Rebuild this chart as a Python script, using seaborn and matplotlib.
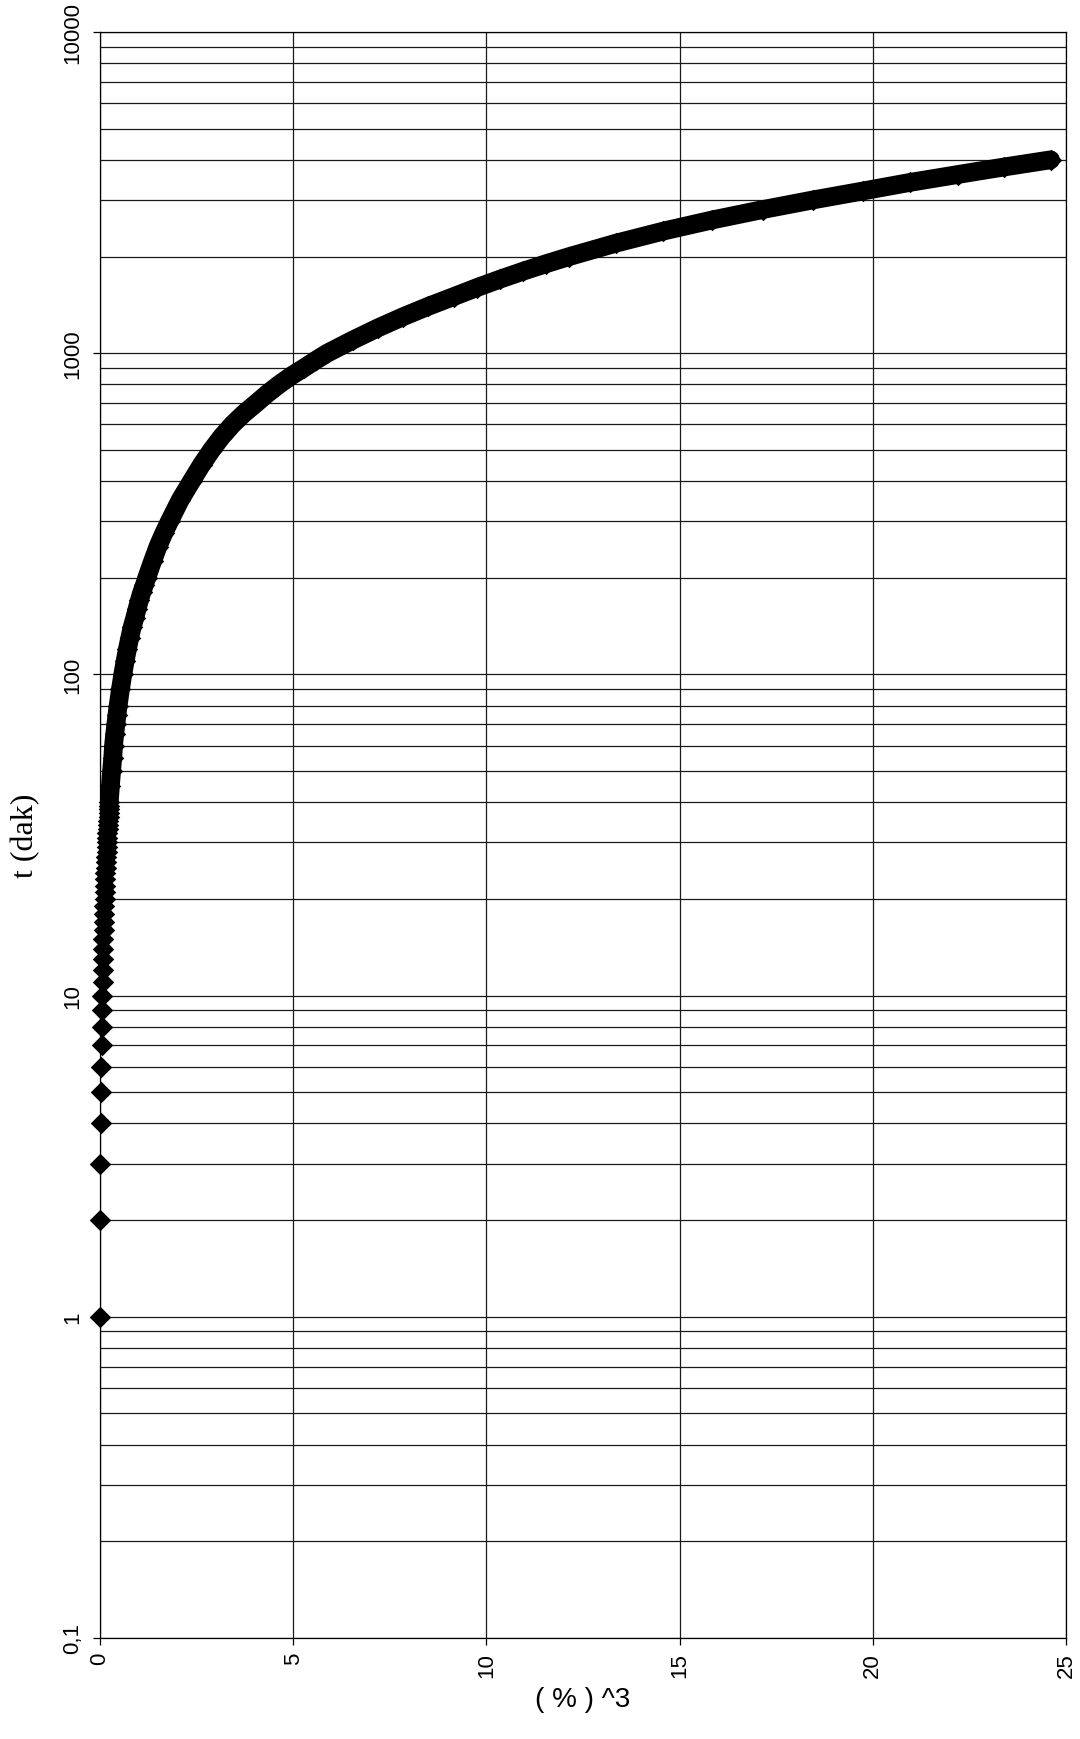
import numpy as np
import pandas as pd
import matplotlib
matplotlib.use("Agg")
import matplotlib.pyplot as plt
import seaborn as sns
from matplotlib.ticker import FixedLocator, NullFormatter, NullLocator

# ---- data ----
t_min = [1, 2, 3, 4, 5, 6, 7, 8, 9, 10,
         11, 12, 13, 14, 15, 16, 17, 18, 19, 20,
         21, 22, 23, 24, 25, 26, 27, 28, 29, 30,
         31, 32, 33, 34, 35, 36, 37, 38, 39, 40,
         45, 50, 55, 60, 65, 70, 75, 80, 90, 100,
         110, 120, 130, 140, 150, 160, 170, 180, 190, 200,
         225, 250, 275, 300, 350, 400, 450, 500, 550, 600,
         650, 700, 750, 800, 850, 900, 950, 1000, 1100, 1200,
         1300, 1400, 1500, 1600, 1700, 1800, 1900, 2000, 2200, 2400,
         2600, 2800, 3000, 3200, 3400, 3600, 3800, 4000]
pct_cubed = [0.00, 0.00, 0.01, 0.02, 0.03, 0.03, 0.04, 0.05, 0.05, 0.06,
             0.07, 0.07, 0.08, 0.08, 0.09, 0.10, 0.10, 0.11, 0.11, 0.12,
             0.13, 0.13, 0.14, 0.14, 0.15, 0.16, 0.16, 0.17, 0.17, 0.18,
             0.19, 0.19, 0.20, 0.20, 0.21, 0.22, 0.22, 0.23, 0.23, 0.24,
             0.27, 0.30, 0.33, 0.35, 0.38, 0.41, 0.44, 0.47, 0.53, 0.59,
             0.65, 0.71, 0.77, 0.83, 0.90, 0.96, 1.02, 1.08, 1.15, 1.21,
             1.36, 1.50, 1.65, 1.80, 2.08, 2.37, 2.63, 2.89, 3.15, 3.43,
             3.73, 4.05, 4.34, 4.64, 4.95, 5.28, 5.58, 5.88, 6.55, 7.20,
             7.85, 8.50, 9.15, 9.75, 10.35, 10.95, 11.55, 12.15, 13.35, 14.58,
             15.85, 17.15, 18.45, 19.75, 20.95, 22.20, 23.40, 24.60]

x_ticks = [0, 5, 10, 15, 20, 25]
x_tick_labels = ["0", "5", "10", "15", "20", "25"]
y_ticks = [0.1, 1, 10, 100, 1000, 10000]
y_tick_labels = ["0,1", "1", "10", "100", "1000", "10000"]
x_label = "( % ) ^3"
y_label = "t (dak)"

df = pd.DataFrame({"x": pct_cubed, "t": t_min})

sns.set_theme(style="white")
plt.rcParams["font.family"] = ["Liberation Sans", "DejaVu Sans"]

fig = plt.figure(figsize=(10.8, 17.4), dpi=100)
ax = fig.add_axes([100 / 1080, 1 - 1639 / 1740, 966 / 1080, (1639 - 33) / 1740])
ax.set_yscale("log")

# thick continuous band where the markers overlap
band = df[df["t"] >= 40]
sns.lineplot(data=band, x="x", y="t", sort=False, estimator=None, color="black",
             lw=13.5, solid_capstyle="round", ax=ax, zorder=3)
sns.scatterplot(data=df, x="x", y="t", marker="D", s=120, color="black",
                edgecolor="black", linewidth=0, ax=ax, zorder=4, clip_on=False,
                legend=False)

ax.set_xlim(0, 25)
ax.set_ylim(0.1, 10000)

ax.xaxis.set_major_locator(FixedLocator(x_ticks))
ax.set_xticklabels(x_tick_labels, rotation=90, fontsize=16)
ax.xaxis.set_minor_locator(NullLocator())
ax.yaxis.set_major_locator(FixedLocator(y_ticks))
ax.set_yticklabels(y_tick_labels, rotation=90, fontsize=16, va="center")
minor_y = [m * 10.0 ** e for e in range(-1, 4) for m in range(2, 10)]
ax.yaxis.set_minor_locator(FixedLocator(minor_y))
ax.yaxis.set_minor_formatter(NullFormatter())

ax.tick_params(axis="both", which="major", direction="out", length=5, width=0.9,
               color="black", labelcolor="black", bottom=True, left=True)
ax.tick_params(axis="x", pad=5)
ax.tick_params(axis="y", pad=7)
ax.tick_params(axis="y", which="minor", length=0)

ax.grid(True, axis="y", which="both", color="#1a1a1a", lw=0.9)
ax.grid(True, axis="x", which="major", color="#1a1a1a", lw=0.9)
for s in ax.spines.values():
    s.set_color("black")
    s.set_linewidth(0.9)

ax.set_ylabel(y_label, family=["Liberation Serif", "DejaVu Serif"], fontsize=23,
              color="black")
ax.yaxis.set_label_coords(-0.062, 0.5)
ax.set_xlabel(x_label, fontsize=20, color="black")
ax.xaxis.set_label_coords(0.5, -0.030)

fig.savefig("out.png", dpi=100, facecolor="white")
